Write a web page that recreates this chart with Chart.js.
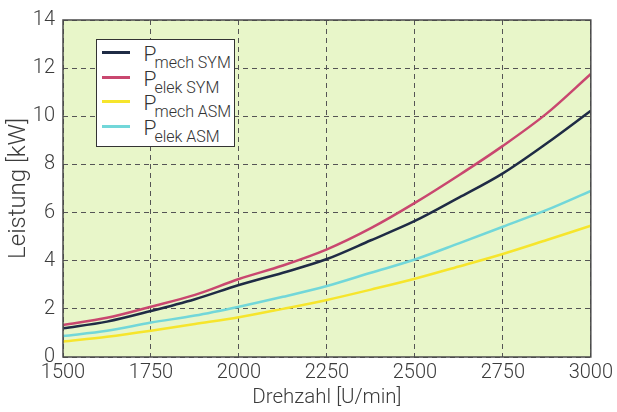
<!DOCTYPE html>
<html>
<head>
<meta charset="utf-8">
<script src="https://cdn.jsdelivr.net/npm/chart.js@4/dist/chart.umd.min.js"></script>
<style>
  html, body { margin: 0; padding: 0; background: #fff; }
  #wrap { position: relative; width: 617px; height: 412px; }
  #legend {
    position: absolute; left: 96px; top: 39px; width: 139px; height: 108px;
    background: #fff; border: 1.5px solid #333; box-sizing: border-box;
    font-family: Roboto, "Liberation Sans", sans-serif; font-weight: 300; color: #333;
  }
  .item { position: absolute; left: 0; height: 24px; width: 100%; }
  .item .swatch { position: absolute; left: 4.5px; top: 11px; width: 28px; height: 3px; }
  .item .lbl { position: absolute; left: 46.5px; top: 3.5px; font-size: 21px; line-height: 20px; white-space: nowrap; }
  .item .lbl sub { font-size: 16px; vertical-align: -7px; margin-left: -2px; line-height: 0; }
</style>
</head>
<body>
<div id="wrap">
  <canvas id="chart" width="617" height="412"></canvas>
  <div id="legend"></div>
</div>
<script>
const drehzahl = [1500, 1625, 1750, 1875, 2000, 2125, 2250, 2375, 2500, 2625, 2750, 2875, 3000];
const pMechSym = [1.19, 1.47, 1.91, 2.40, 2.99, 3.50, 4.07, 4.85, 5.65, 6.62, 7.63, 8.88, 10.23];
const pElekSym = [1.33, 1.63, 2.09, 2.58, 3.24, 3.80, 4.47, 5.35, 6.40, 7.55, 8.77, 10.12, 11.76];
const pMechAsm = [0.64, 0.84, 1.09, 1.37, 1.65, 2.00, 2.37, 2.80, 3.25, 3.76, 4.28, 4.86, 5.45];
const pElekAsm = [0.87, 1.09, 1.43, 1.72, 2.09, 2.50, 2.95, 3.50, 4.05, 4.72, 5.41, 6.11, 6.90];
const xTicks = [1500, 1750, 2000, 2250, 2500, 2750, 3000];
const yTicks = [0, 2, 4, 6, 8, 10, 12, 14];

const series = [
  { sub: 'mech SYM', data: pMechSym, color: '#1f2b45' },
  { sub: 'elek SYM', data: pElekSym, color: '#c9476f' },
  { sub: 'mech ASM', data: pMechAsm, color: '#f6e52c' },
  { sub: 'elek ASM', data: pElekAsm, color: '#72d7d9' }
];

const fontFam = 'Roboto, "Liberation Sans", sans-serif';
const textCol = '#3c3c3c';

// plot background + frame
const plotFrame = {
  id: 'plotFrame',
  beforeDraw(chart) {
    const { ctx, chartArea: a } = chart;
    ctx.save();
    ctx.fillStyle = '#e8f6c9';
    ctx.fillRect(a.left, a.top, a.right - a.left, a.bottom - a.top);
    ctx.restore();
  },
  afterDatasetsDraw(chart) {
    const { ctx, chartArea: a } = chart;
    ctx.save();
    ctx.strokeStyle = '#4a4a4a';
    ctx.lineWidth = 1.5;
    ctx.strokeRect(a.left, a.top, a.right - a.left, a.bottom - a.top);
    ctx.restore();
  }
};

const gridOpts = { color: '#555', lineWidth: 1, drawTicks: false };
const borderOpts = { display: true, color: 'rgba(0,0,0,0)', width: 0, dash: [5, 4] };

const chart = new Chart(document.getElementById('chart'), {
  type: 'line',
  data: {
    datasets: series.map(s => ({
      label: 'P ' + s.sub,
      data: drehzahl.map((x, i) => ({ x: x, y: s.data[i] })),
      borderColor: s.color,
      borderWidth: 2.5,
      pointRadius: 0,
      cubicInterpolationMode: 'monotone',
      fill: false
    }))
  },
  options: {
    responsive: false,
    animation: false,
    layout: { padding: { left: 0, right: 22, top: 20, bottom: 0 } },
    plugins: { legend: { display: false }, tooltip: { enabled: false } },
    scales: {
      x: {
        type: 'linear', min: 1500, max: 3000,
        afterBuildTicks: s => { s.ticks = xTicks.map(v => ({ value: v })); },
        afterFit: s => { s.height = 55; },
        grid: gridOpts,
        border: borderOpts,
        ticks: { color: textCol, padding: 4, callback: v => String(v),
                 font: { family: fontFam, size: 20, weight: 300 } },
        title: { display: true, text: 'Drehzahl [U/min]', color: textCol,
                 padding: { top: 0, bottom: 2 }, font: { family: fontFam, size: 20.5, weight: 300 } }
      },
      y: {
        min: 0, max: 14,
        afterBuildTicks: s => { s.ticks = yTicks.map(v => ({ value: v })); },
        afterFit: s => { s.width = 63; },
        grid: gridOpts,
        border: borderOpts,
        ticks: { color: textCol, padding: 8, callback: v => String(v),
                 font: { family: fontFam, size: 20, weight: 300 } },
        title: { display: true, text: 'Leistung [kW]', color: textCol,
                 padding: { top: 4.5, bottom: 0 }, font: { family: fontFam, size: 24, weight: 300 } }
      }
    }
  },
  plugins: [plotFrame]
});

// legend with subscripts
const legend = document.getElementById('legend');
series.forEach((s, i) => {
  const item = document.createElement('div');
  item.className = 'item';
  item.style.top = Math.round(i * 24.6) + 'px';
  item.innerHTML = '<span class="swatch" style="background:' + s.color + '"></span>' +
    '<span class="lbl">P<sub>' + s.sub + '</sub></span>';
  legend.appendChild(item);
});
</script>
</body>
</html>
